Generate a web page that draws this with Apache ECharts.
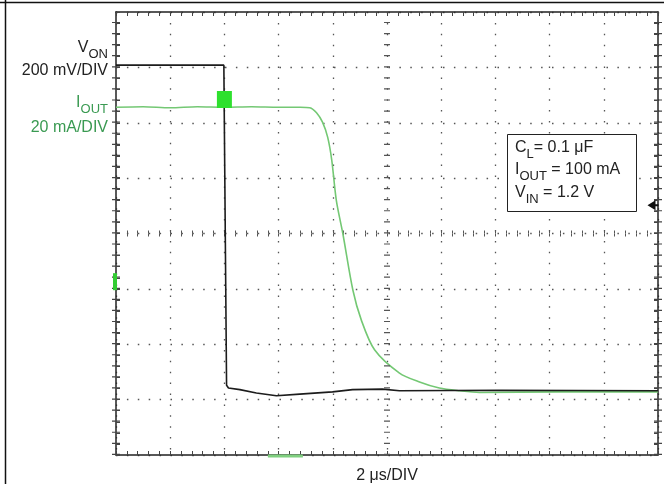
<!DOCTYPE html>
<html>
<head>
<meta charset="utf-8">
<script src="https://cdn.jsdelivr.net/npm/echarts@6/dist/echarts.min.js"></script>
<style>
html, body { margin: 0; padding: 0; background: #fff; }
#main { width: 664px; height: 484px; }
</style>
</head>
<body>
<div id="main"></div>
<script>
// time in us (2 us/DIV, 10 DIV), traces in divisions from the screen centre
const vonTime = [0, 3.98, 4.08, 4.15, 4.57, 5.18, 5.92, 6.78, 7.99, 8.73, 9.83, 10.46, 14.14, 20];
const vonDiv = [3.04, 3.04, -2.74, -2.79, -2.82, -2.88, -2.93, -2.9, -2.86, -2.82, -2.81, -2.84, -2.83, -2.84];

const ioutTime = [0, 1, 2, 3, 4, 5, 6, 6.8, 7.15, 7.4, 7.62, 7.81, 7.96, 8.13, 8.37, 8.74, 9.05, 9.54, 10.46, 11.2, 11.93, 12.67, 13.41, 16.35, 20];
const ioutDiv = [2.28, 2.29, 2.27, 2.29, 2.28, 2.29, 2.28, 2.28, 2.27, 2.18, 2.01, 1.74, 1.33, 0.6, 0, -1.02, -1.56, -2.1, -2.52, -2.68, -2.79, -2.84, -2.87, -2.86, -2.86];

// screen positions (us) that carry the vertical tick rulers
const rulerTime = [0, 10, 20];

const font = "'Liberation Sans', Arial, sans-serif";
const green = '#3a9a52';

function pairs(xs, ys) {
  return xs.map((x, i) => [x, ys[i]]);
}

function tickAxis(grid, pos, isX, len, color) {
  return {
    type: 'value',
    gridIndex: grid,
    position: pos,
    min: isX ? 0 : -4,
    max: isX ? 20 : 4,
    interval: isX ? 2 : 1,
    axisLine: { show: false, onZero: false },
    axisTick: { show: true, inside: true, length: len, lineStyle: { color: color } },
    minorTick: { show: true, splitNumber: 5, length: len, lineStyle: { color: color } },
    axisLabel: { show: false },
    splitLine: { show: false }
  };
}

// border axis with scope-style inner ticks
function edgeAxis(pos, isX) {
  const a = tickAxis(0, pos, isX, 4, '#444');
  a.axisLine = { show: true, onZero: false, lineStyle: { color: '#222', width: 1.5 } };
  return a;
}

const dotted = { show: true, lineStyle: { color: '#555', width: 1.3, type: [1.5, 9.4] } };

const xBottom = edgeAxis('bottom', true);
xBottom.splitLine = dotted;
const yLeft = edgeAxis('left', false);
yLeft.splitLine = dotted;

// horizontal centre line: two x axes pulled to the middle
const xMidUp = tickAxis(1, 'bottom', true, 3, '#555');
xMidUp.offset = -221.5;
const xMidDown = tickAxis(1, 'top', true, 3, '#555');
xMidDown.offset = -221.5;

// vertical tick rulers: a wide dashed line, one dash per 0.2 DIV
const rulers = rulerTime.map(t => ({
  xAxis: t,
  lineStyle: {
    color: t === 10 ? '#555' : '#444',
    width: t === 10 ? 6 : 8,
    type: [1.2, 9.875]
  }
}));

function label(text, x, y, color, align) {
  return {
    type: 'text',
    x: x,
    y: y,
    z: 10,
    style: {
      text: text,
      fill: color,
      align: align,
      verticalAlign: 'middle',
      font: '16px ' + font,
      rich: {
        m: { fontSize: 16, fontFamily: font, lineHeight: 25, verticalAlign: 'middle', fill: color },
        s: { fontSize: 13, fontFamily: font, lineHeight: 13, verticalAlign: 'bottom', fill: color }
      }
    }
  };
}

const chart = echarts.init(document.getElementById('main'));
chart.setOption({
  animation: false,
  backgroundColor: '#fff',
  grid: [
    { left: 116, top: 12, width: 542, height: 443 },
    { left: 116, top: 12, width: 542, height: 443 }
  ],
  xAxis: [xBottom, edgeAxis('top', true), xMidUp, xMidDown],
  yAxis: [
    yLeft,
    edgeAxis('right', false),
    { type: 'value', gridIndex: 1, show: false, min: -4, max: 4 }
  ],
  series: [
    {
      name: 'IOUT',
      type: 'line',
      xAxisIndex: 0,
      yAxisIndex: 0,
      data: pairs(ioutTime, ioutDiv),
      showSymbol: false,
      smooth: 0.3,
      z: 3,
      lineStyle: { color: '#74c874', width: 1.6 },
      markPoint: {
        silent: true,
        label: { show: false },
        data: [
          { coord: [4.0, 2.42], symbol: 'rect', symbolSize: [15, 17], itemStyle: { color: '#2ee02e' } },
          { coord: [0, -0.87], symbol: 'rect', symbolSize: [4, 17], symbolOffset: [-1, 0], itemStyle: { color: '#33cc33' } },
          { coord: [6.25, -4], symbol: 'rect', symbolSize: [35, 3], symbolOffset: [0, 1], itemStyle: { color: '#7fcf7f' } }
        ]
      }
    },
    {
      name: 'VON',
      type: 'line',
      xAxisIndex: 0,
      yAxisIndex: 0,
      data: pairs(vonTime, vonDiv),
      showSymbol: false,
      z: 4,
      lineStyle: { color: '#1c1c1c', width: 1.6 },
      markPoint: {
        silent: true,
        label: { show: false },
        data: [
          {
            coord: [20, 0.51],
            symbol: 'path://M0,5 L8,0 L8,10 Z M8,4 L11,4 L11,6 L8,6 Z',
            symbolSize: [11, 10],
            symbolOffset: [-5, 0],
            itemStyle: { color: '#111' }
          }
        ]
      },
      markLine: {
        silent: true,
        symbol: 'none',
        label: { show: false },
        data: rulers
      }
    }
  ],
  graphic: [
    { type: 'line', shape: { x1: 5.5, y1: 0, x2: 5.5, y2: 484 }, style: { stroke: '#111', lineWidth: 1.5 } },
    { type: 'line', shape: { x1: 0, y1: 2.5, x2: 664, y2: 2.5 }, style: { stroke: '#111', lineWidth: 1.5 } },
    label('{m|V}{s|ON}', 108, 48, '#222', 'right'),
    label('200 mV/DIV', 108, 71, '#222', 'right'),
    label('{m|I}{s|OUT}', 108, 103, green, 'right'),
    label('20 mA/DIV', 108, 128, green, 'right'),
    {
      type: 'rect',
      z: 9,
      shape: { x: 507.5, y: 134.5, width: 129, height: 77 },
      style: { fill: '#fff', stroke: '#222', lineWidth: 1 }
    },
    label('{m|C}{s|L}{m|= 0.1 μF}', 515, 148, '#222', 'left'),
    label('{m|I}{s|OUT}{m| = 100 mA}', 515, 170, '#222', 'left'),
    label('{m|V}{s|IN}{m| = 1.2 V}', 515, 193, '#222', 'left'),
    label('2 μs/DIV', 387, 476, '#222', 'center')
  ]
});
</script>
</body>
</html>
